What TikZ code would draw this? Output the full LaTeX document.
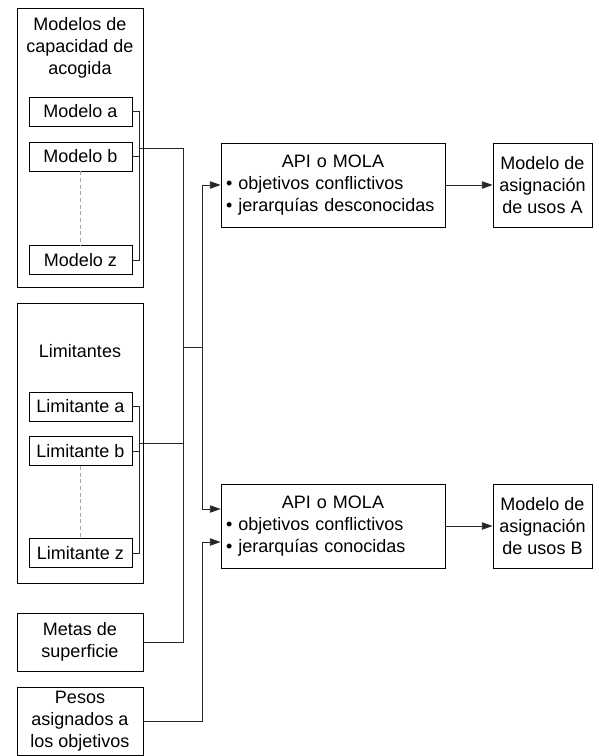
\documentclass[tikz,border=0pt]{standalone}
\usepackage{fontspec}
\setmainfont{Liberation Sans}
\usetikzlibrary{arrows.meta}
\usetikzlibrary{positioning}

\begin{document}
\begin{tikzpicture}[x=0.75pt, y=-0.75pt, >={Triangle[length=8pt,width=5.5pt]},
        every node/.style={font=\fontsize{13.5}{16.5}\selectfont, inner sep=0pt},
        box/.style={draw, line width=0.6pt, minimum width=77.25pt, minimum height=21.75pt},
        group/.style={draw, line width=0.6pt, minimum width=94.5pt, align=center},
        result/.style={draw, line width=0.6pt, minimum width=74.25pt, minimum height=63pt, align=center},
        method/.style={draw, line width=0.6pt, text width=160.5pt, minimum height=63pt, inner xsep=3.75pt},
        link/.style={draw=black!85, line width=0.6pt},
        gap/.style={draw=gray!70, line width=0.6pt, dash pattern=on 3pt off 2pt}]
        \useasboundingbox (0,0) rectangle (599,756);

        \node[group, minimum height=209.25pt] (capac) at (80,147.5) {};
        \node[align=center] (capacT) at (80,48) {Modelos de\\capacidad de\\acogida};
        \node[box] (ma) at (80.5,111.5) {Modelo a};
        \node[box] (mb) at (80.5,156.5) {Modelo b};
        \node[box] (mz) at (80.5,260) {Modelo z};

        \node[group, minimum height=210pt] (limit) at (80,443) {};
        \node (limitT) at (80,351) {Limitantes};
        \node[box] (la) at (80.5,406.5) {Limitante a};
        \node[box] (lb) at (80.5,451) {Limitante b};
        \node[box] (lz) at (80.5,553) {Limitante z};

        \node[group, minimum height=43.5pt] (metas) at (80,642) {Metas de\\superficie};
        \node[group, minimum height=51pt] (pesos) at (80,721) {Pesos\\asignados a\\los objetivos};

        \node[method] (apiA) at (333,185) {\centering API o MOLA\par\raggedright
            \textbullet\ objetivos conflictivos\par\textbullet\ jerarquías desconocidas};
        \node[result] (usoA) at (542.5,185) {Modelo de\\asignación\\de usos A};
        \node[method] (apiB) at (333,526) {\centering API o MOLA\par\raggedright
            \textbullet\ objetivos conflictivos\par\textbullet\ jerarquías conocidas};
        \node[result] (usoB) at (542.5,526) {Modelo de\\asignación\\de usos B};

        \coordinate (bkA) at (139,148);
        \coordinate (bkB) at (139,443);
        \coordinate (busA) at (183,148);
        \coordinate (busM) at (183,347);
        \coordinate (busN) at (202,347);
        \coordinate (pesB) at (202,542);

        \draw[gap] (mb.south) -- (mz.north);
        \draw[gap] (lb.south) -- (lz.north);
        \draw[link] (ma.east) -- ++(7,0) |- (mz.east);
        \draw[link] (mb.east) -- ++(7,0);
        \draw[link] (la.east) -- ++(7,0) |- (lz.east);
        \draw[link] (lb.east) -- ++(7,0);
        \draw[link] (bkA) -- (busA) |- (metas.east);
        \draw[link] (bkB) -- (bkB -| busA);
        \draw[link] (busM) -- (busN);
        \draw[link, ->] (busN) |- (apiA.west);
        \draw[link, ->] (busN) |- ([yshift=12.75pt]apiB.west);
        \draw[link, ->] (pesos.east) -| (pesB) -- (pesB -| apiB.west);
        \draw[link, ->] (apiA) -- (usoA);
        \draw[link, ->] (apiB) -- (usoB);
\end{tikzpicture}
\end{document}
